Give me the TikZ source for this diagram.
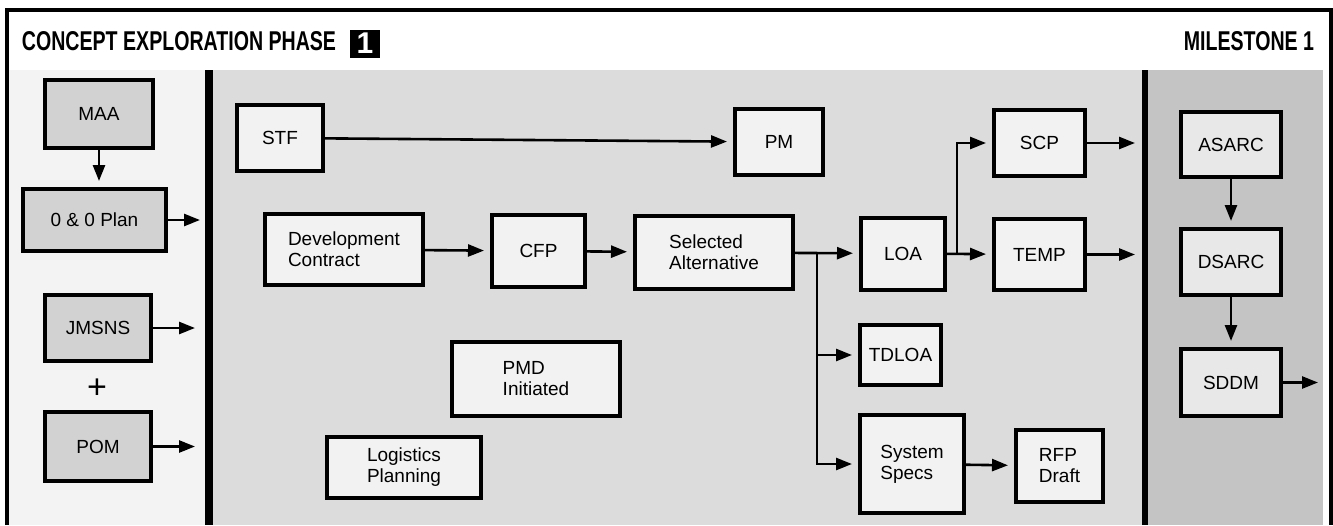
\documentclass[tikz,border=0pt]{standalone}
\usepackage{fontspec}
\setmainfont{Liberation Sans}
\newfontfamily\headfont{Liberation Sans}[FakeStretch=0.72]
\usetikzlibrary{arrows.meta}

\definecolor{leftbg}{HTML}{F3F3F3}
\definecolor{midbg}{HTML}{DCDCDC}
\definecolor{rightbg}{HTML}{C4C4C4}
\definecolor{graybox}{HTML}{D2D2D2}
\definecolor{lightbox}{HTML}{F2F2F2}
\definecolor{msbox}{HTML}{E8E8E8}

\begin{document}
\begin{tikzpicture}[x=0.5pt,y=-0.5pt,line width=1.3pt,>={Triangle[length=8pt,width=6pt]}]
\newcommand{\lblfont}{\fontsize{9.5}{10.5}\selectfont}
\newcommand{\hdfont}{\headfont\bfseries\fontsize{13.6}{15}\selectfont}
\useasboundingbox (0,0) rectangle (1333,525);
% panels and frame
\fill[leftbg] (9,70) rectangle (205,525);
\fill[midbg] (213,70) rectangle (1142,525);
\fill[rightbg] (1148,70) rectangle (1323,525);
\fill (205,70) rectangle (213,525);
\fill (1142,70) rectangle (1148,525);
\draw[line width=2pt] (7,525) -- (7,10) -- (1331,10) -- (1331,525);
% headings
\node (phase) [anchor=base west,font=\hdfont] at (14,50) {CONCEPT EXPLORATION PHASE};
\node (phasenum) [fill=black,text=white,minimum width=15pt,minimum height=14pt,inner sep=0pt,font=\bfseries\fontsize{15}{15}\selectfont] at (365,43.5) {1};
\node (milestone) [anchor=base east,font=\hdfont] at (1322,50) {MILESTONE 1};
\begin{scope}[line width=2pt,font=\lblfont,align=left]
\tikzstyle{every node}=[draw,fill=lightbox,inner sep=0pt]
% inputs
\node[fill=graybox,minimum width=54pt,minimum height=34pt] (maa) at (99,114) {MAA};
\node[fill=graybox,minimum width=71.5pt,minimum height=31pt] (oo) at (94.5,220) {0 \& 0 Plan};
\node[fill=graybox,minimum width=53pt,minimum height=33pt] (jmsns) at (98,328) {JMSNS};
\node[draw=none,fill=none,font=\fontsize{17}{17}\selectfont] (plus) at (97,389) {+};
\node[fill=graybox,minimum width=53pt,minimum height=34.5pt] (pom) at (98,446.5) {POM};
% phase
\node[minimum width=43pt,minimum height=33pt] (stf) at (280,138) {STF};
\node[minimum width=44pt,minimum height=33pt] (pm) at (779,142) {PM};
\node[minimum width=79pt,minimum height=35.5pt] (devc) at (344,249.5) {Development\\Contract};
\node[minimum width=46.5pt,minimum height=36pt] (cfp) at (538.5,251) {CFP};
\node[minimum width=79pt,minimum height=36.5pt] (selalt) at (714,252.5) {Selected\\Alternative};
\node[minimum width=42pt,minimum height=36pt] (loa) at (903,253.5) {LOA};
\node[minimum width=45.5pt,minimum height=33pt] (scp) at (1039.5,143) {SCP};
\node[minimum width=45.5pt,minimum height=35.5pt] (temp) at (1039.5,254.5) {TEMP};
\node[minimum width=40.5pt,minimum height=30pt] (tdloa) at (900.5,355) {TDLOA};
\node[minimum width=52pt,minimum height=49pt] (specs) at (912,464) {System\\Specs};
\node[minimum width=43.5pt,minimum height=36pt] (rfp) at (1059.5,466) {RFP\\Draft};
\node[minimum width=84pt,minimum height=37pt] (pmd) at (536,379) {PMD\\Initiated};
\node[minimum width=77pt,minimum height=30.5pt] (logplan) at (404,467.5) {Logistics\\Planning};
% milestone reviews
\node[fill=msbox,minimum width=50pt,minimum height=32.5pt] (asarc) at (1231,144.5) {ASARC};
\node[fill=msbox,minimum width=50pt,minimum height=33pt] (dsarc) at (1231,262) {DSARC};
\node[fill=msbox,minimum width=50pt,minimum height=33.5pt] (sddm) at (1231,382.5) {SDDM};
\end{scope}
\coordinate (oo_end) at (206,220);
\coordinate (jm_end) at (201,328);
\coordinate (pom_end) at (201,446.5);
\coordinate (scp_end) at (1141,143);
\coordinate (temp_end) at (1141,254.5);
\coordinate (sddm_end) at (1324,382.5);
\coordinate (sa_br) at (817,252.5);
\coordinate (loa_br) at (957,253.5);
\begin{scope}[shorten >=3pt]
\draw [->] (maa) -- (maa |- oo.north);
\draw [->] (oo) -- (oo_end);
\draw [->] (jmsns) -- (jm_end);
\draw [->] (pom) -- (pom_end);
\draw [->] (stf) -- (pm);
\draw [->] (devc) -- (cfp);
\draw [->] (cfp) -- (selalt);
\draw [->] (selalt) -- (loa);
\draw [->] (sa_br) |- (tdloa);
\draw [->] (sa_br) |- (specs);
\draw [->] (loa) -- (temp);
\draw [->] (loa_br) |- (scp);
\draw [->] (specs) -- (rfp);
\draw [->] (scp) -- (scp_end);
\draw [->] (temp) -- (temp_end);
\draw [->] (asarc) -- (dsarc);
\draw [->] (dsarc) -- (sddm);
\draw [->] (sddm) -- (sddm_end);
\end{scope}
\end{tikzpicture}
\end{document}
